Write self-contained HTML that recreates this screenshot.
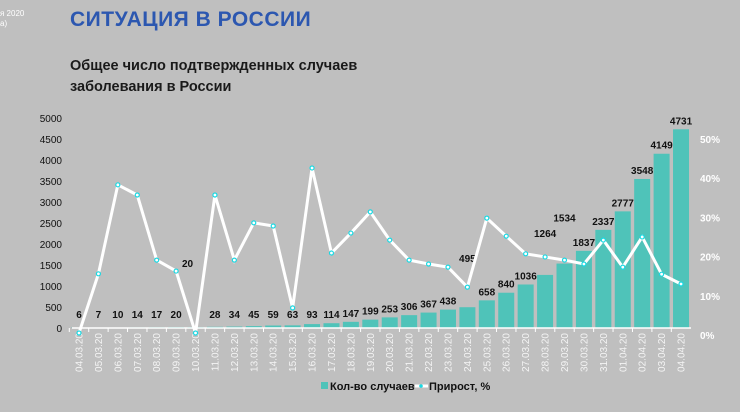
<!DOCTYPE html>
<html><head><meta charset="utf-8">
<style>
html,body{margin:0;padding:0;}
body{width:740px;height:412px;background:#bfbfbf;overflow:hidden;font-family:"Liberation Sans","DejaVu Sans",sans-serif;position:relative;}
.t{position:absolute;white-space:nowrap;}
</style></head>
<body>
<div class="t" style="left:0;top:9px;font-size:8px;color:#fff;line-height:10px;">я 2020<br>а)</div>
<div class="t" style="left:70px;top:8px;font-size:21px;font-weight:bold;color:#2c57b0;letter-spacing:0.5px;">СИТУАЦИЯ В РОССИИ</div>
<div class="t" style="left:70px;top:56px;font-size:14.5px;font-weight:bold;color:#1a1a1a;line-height:21px;">Общее число подтвержденных случаев<br>заболевания в России</div>
<svg id="chart" width="740" height="412" style="position:absolute;left:0;top:0;font-family:'Liberation Sans',sans-serif;"></svg>
<script>
const categories=["04.03.20","05.03.20","06.03.20","07.03.20","08.03.20","09.03.20","10.03.20","11.03.20","12.03.20","13.03.20","14.03.20","15.03.20","16.03.20","17.03.20","18.03.20","19.03.20","20.03.20","21.03.20","22.03.20","23.03.20","24.03.20","25.03.20","26.03.20","27.03.20","28.03.20","29.03.20","30.03.20","31.03.20","01.04.20","02.04.20","03.04.20","04.04.20"];
const cases=[6,7,10,14,17,20,20,28,34,45,59,63,93,114,147,199,253,306,367,438,495,658,840,1036,1264,1534,1837,2337,2777,3548,4149,4731];
const growth=[0,15.1,37.8,35.2,18.6,15.8,0,35.2,18.6,28.1,27.3,6.4,42.1,20.4,25.5,30.9,23.7,18.6,17.6,16.8,11.7,29.3,24.7,20.2,19.4,18.6,17.6,23.7,16.8,24.5,15,12.5];
const leftTicks=[0,500,1000,1500,2000,2500,3000,3500,4000,4500,5000];
const rightTicks=[0,10,20,30,40,50];
const labelLift={6:60,20:45,24:38,25:42};
const NS="http://www.w3.org/2000/svg";
const svg=document.getElementById('chart');
const x0=79,step=19.42,axisY=328;
const xs=i=>x0+i*step;
const yL=v=>axisY-v*0.042;
const yR=p=>333-p*3.92;
function mk(tag,attrs,parent){const e=document.createElementNS(NS,tag);for(const k in attrs)e.setAttribute(k,attrs[k]);(parent||svg).appendChild(e);return e;}
leftTicks.forEach(v=>{const t=mk('text',{x:62,y:yL(v)+4,'text-anchor':'end','font-size':10,fill:'#111'});t.textContent=v;

});
rightTicks.forEach(p=>{const t=mk('text',{x:700,y:yR(p)+6,'font-size':10,'font-weight':'bold',fill:'#fff'});t.textContent=p+'%';

});
cases.forEach((v,i)=>{const cx=xs(i);const top=yL(v);
const b=mk('rect',{x:cx-8,y:top,width:16,height:axisY-top,fill:'#4fc3b9'});


let ly=Math.min(top-5,318);if(labelLift[i])ly=top-labelLift[i];
const dx=i===6?-8:0;
const t=mk('text',{x:cx+dx,y:ly,'text-anchor':'middle','font-size':10,'font-weight':'bold',fill:'#111'});t.textContent=v;


const d=mk('text',{transform:`translate(${cx+3.5},${333}) rotate(-90)`,'text-anchor':'end','font-size':10,fill:'#f4f4f4'});d.textContent=categories[i];


const tk=mk('line',{x1:cx-step/2,x2:cx-step/2,y1:axisY,y2:axisY+4,stroke:'#fff','stroke-width':1});


});
const ax=mk('line',{x1:72,x2:691,y1:axisY,y2:axisY,stroke:'#fff','stroke-width':1.5});


const pts=growth.map((p,i)=>xs(i)+','+yR(p)).join(' ');
const ln=mk('polyline',{points:pts,fill:'none',stroke:'#fff','stroke-width':3,'stroke-linejoin':'miter'});


growth.forEach((p,i)=>{const c=mk('circle',{cx:xs(i),cy:yR(p),r:2,fill:'#fff',stroke:'#19d9e3','stroke-width':1.2});

});
// legend
const lg=mk('g',{});


const s1=mk('rect',{x:321,y:382,width:7,height:7,fill:'#4fc3b9'},lg);


const t1=mk('text',{x:330,y:390,'font-size':11,'font-weight':'bold',fill:'#111'},lg);t1.textContent='Кол-во случаев';


const l2=mk('line',{x1:415,x2:428,y1:386,y2:386,stroke:'#fff','stroke-width':3},lg);


const c2=mk('circle',{cx:421,cy:386,r:1.8,fill:'#19d9e3'},lg);


const t2=mk('text',{x:429,y:390,'font-size':11,'font-weight':'bold',fill:'#111'},lg);t2.textContent='Прирост, %';


</script>
</body></html>
